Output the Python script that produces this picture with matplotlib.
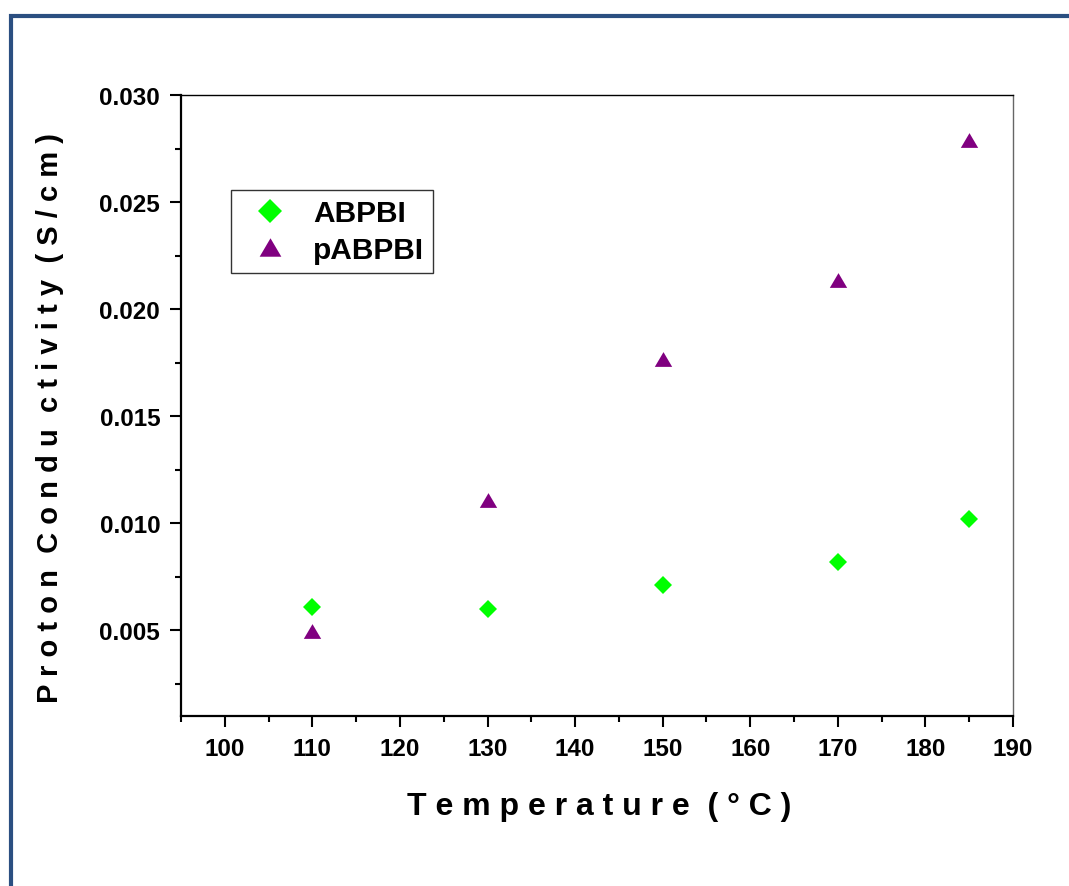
import matplotlib
matplotlib.use('Agg')
import matplotlib.pyplot as plt
from matplotlib.patches import Rectangle
from matplotlib.ticker import MultipleLocator

plt.rcParams['font.family'] = ['Liberation Sans', 'DejaVu Sans']
plt.rcParams['font.weight'] = 'bold'

temps = [110, 130, 150, 170, 185]
abpbi = [0.00608, 0.00600, 0.00714, 0.00818, 0.01018]
pabpbi = [0.00499, 0.01107, 0.01767, 0.02135, 0.02791]

fig = plt.figure(figsize=(10.69, 8.87), dpi=100)
ax = fig.add_axes([181 / 1069, 1 - 717 / 887, 832 / 1069, 621 / 887])

# blue frame around the whole picture (cut off at right and bottom)
fig.add_artist(Rectangle((11 / 1069, -0.1), 1.2, 1.1 - 17 / 887,
                         transform=fig.transFigure, fill=False,
                         edgecolor='#2B4F81', linewidth=3))

tri = [(0, 0.85), (-1, -0.85), (1, -0.85)]
ax.plot(temps, abpbi, linestyle='none', marker='D', markersize=9.5,
        color='#00FF00', markeredgewidth=0, label='ABPBI')
ax.plot(temps, pabpbi, linestyle='none', marker=tri, markersize=12.5,
        color='#800080', markeredgewidth=0, label='pABPBI')

ax.set_xlim(95, 190)
ax.set_ylim(0.001, 0.030)
ax.xaxis.set_major_locator(MultipleLocator(10))
ax.xaxis.set_minor_locator(MultipleLocator(5))
ax.yaxis.set_major_locator(MultipleLocator(0.005))
ax.yaxis.set_minor_locator(MultipleLocator(0.0025))
ax.yaxis.set_major_formatter(matplotlib.ticker.FormatStrFormatter('%.3f'))

ax.tick_params(which='major', direction='out', length=8, width=1.5,
               labelsize=17.5, pad=7, top=False, right=False)
ax.tick_params(which='minor', direction='out', length=4.5, width=1.5,
               top=False, right=False)
for lab in ax.get_xticklabels() + ax.get_yticklabels():
    lab.set_fontweight('bold')

ax.spines['left'].set_linewidth(1.6)
ax.spines['bottom'].set_linewidth(1.6)
ax.spines['top'].set_linewidth(1.0)
ax.spines['right'].set_linewidth(1.0)
ax.spines['right'].set_color('#666666')

fig.text(599 / 1069, 1 - 807 / 887, 'T e m p e r a t u r e  ( \u00b0 C )',
         ha='center', va='center', fontsize=23, fontweight='bold')
fig.text(50 / 1069, 1 - 418 / 887,
         'P r o t o n  C o n d u  c t i v i t y  ( S / c m )',
         rotation=90, ha='center', va='center', fontsize=21, fontweight='bold')

leg = ax.legend(loc='upper left', bbox_to_anchor=(50 / 832, (717 - 191) / 621),
                borderaxespad=0, fontsize=21.5, frameon=True, fancybox=False,
                edgecolor='black', borderpad=0.3, labelspacing=0.3,
                handlelength=2.0, handletextpad=0.45, numpoints=1,
                markerscale=1.25)
leg.get_frame().set_linewidth(1.0)
for t in leg.get_texts():
    t.set_fontweight('bold')

fig.savefig('out.png', dpi=100)
